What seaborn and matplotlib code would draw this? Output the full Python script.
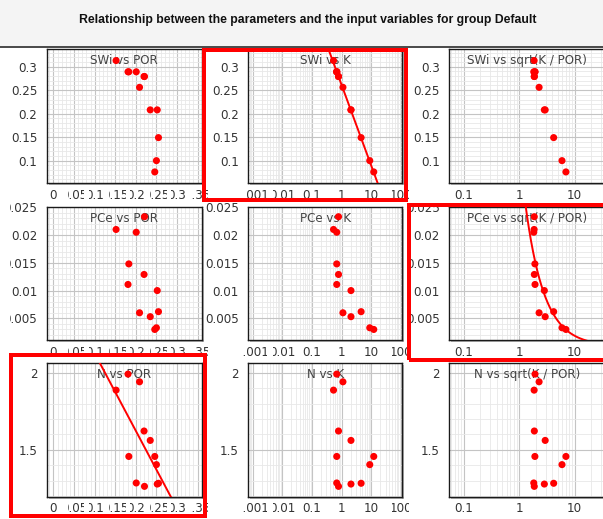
import numpy as np
import pandas as pd
import matplotlib
matplotlib.use("Agg")
import matplotlib.pyplot as plt
import seaborn as sns
from matplotlib.ticker import FixedLocator, FixedFormatter, MultipleLocator, LogLocator, NullFormatter
from matplotlib.transforms import Bbox
from matplotlib.patches import Rectangle
from matplotlib.lines import Line2D

TITLE = "Relationship between the parameters and the input variables for group Default"

# samples
POR = [0.152, 0.181, 0.183, 0.201, 0.209, 0.220, 0.221, 0.235, 0.246, 0.250, 0.252, 0.255]
K = [0.53, 0.68, 0.68, 0.68, 1.10, 0.78, 0.78, 2.05, 12.0, 8.8, 2.05, 4.5]
SWI = [0.313, 0.289, 0.289, 0.289, 0.256, 0.279, 0.279, 0.208, 0.076, 0.100, 0.208, 0.149]
PCE = [0.0210, 0.0111, 0.0148, 0.0205, 0.0060, 0.0129, 0.0233, 0.0053, 0.0030, 0.0033, 0.0100, 0.0062]
NEXP = [1.887, 1.991, 1.457, 1.285, 1.941, 1.622, 1.263, 1.561, 1.457, 1.404, 1.278, 1.283]

PARAM_NAMES = ["SWi", "PCe", "N"]
VAR_NAMES = ["POR", "K", "sqrt(K / POR)"]

POR_TICKS = [0, 0.05, 0.1, 0.15, 0.2, 0.25, 0.3, 0.35]
POR_TICK_LABELS = ["0", "0.05", "0.1", "0.15", "0.2", "0.25", "0.3", "0.35"]
K_TICKS = [0.001, 0.01, 0.1, 1, 10, 100]
K_TICK_LABELS = ["0.001", "0.01", "0.1", "1", "10", "100"]
SQ_TICKS = [0.1, 1, 10]
SQ_TICK_LABELS = ["0.1", "1", "10"]
SWI_TICKS = [0.1, 0.15, 0.2, 0.25, 0.3]
SWI_TICK_LABELS = ["0.1", "0.15", "0.2", "0.25", "0.3"]
PCE_TICKS = [0.005, 0.01, 0.015, 0.02, 0.025]
PCE_TICK_LABELS = ["0.005", "0.01", "0.015", "0.02", "0.025"]
N_TICKS = [1.5, 2.0]
N_TICK_LABELS = ["1.5", "2"]

# fitted relationships (highlighted panels)
SWI_K_FIT = (0.2604, -0.172)    # SWi = a + b*log10(K)
PCE_SQ_FIT = (0.0358, -1.283)   # PCe = a * sqrt(K/POR)**b
N_POR_FIT = (2.629, -5.03)      # N = a + b*POR

# ---------------------------------------------------------------- layout
W, H = 603, 519
COLS = [(46.7, 201.7), (248.3, 402.3), (449.3, 604.0)]
ROWS = [(49.3, 183.3), (206.7, 340.0), (363.3, 496.7)]
CELL_X = [(10, 210), (205, 409), (409, 604)]
CELL_Y = [(47, 201), (201, 356), (356, 519)]
XCFG = [
    dict(scale="linear", lim=(-0.0165, 0.36), ticks=POR_TICKS, labels=POR_TICK_LABELS, minor=0.01, step=0.05),
    dict(scale="log", lim=(10 ** -3.145, 10 ** 2.04), ticks=K_TICKS, labels=K_TICK_LABELS),
    dict(scale="log", lim=(10 ** -1.257, 10 ** 1.53), ticks=SQ_TICKS, labels=SQ_TICK_LABELS),
]
YCFG = [
    dict(lim=(0.0518, 0.3369), ticks=SWI_TICKS, labels=SWI_TICK_LABELS, minor=0.01),
    dict(lim=(0.0011, 0.0251), ticks=PCE_TICKS, labels=PCE_TICK_LABELS, minor=0.001),
    dict(lim=(1.196, 2.061), ticks=N_TICKS, labels=N_TICK_LABELS, minor=0.1),
]
RED_BOXES = [(203.5, 49.5, 406.0, 199.5), (408.7, 204.7, 612.0, 360.0), (10.8, 355.0, 205.0, 515.5)]

RED = "#ff0000"
TXT = "#333333"

df = pd.DataFrame({
    "POR": POR, "K": K, "SWi": SWI, "PCe": PCE, "N": NEXP,
})
df["sqrt(K / POR)"] = np.sqrt(df["K"] / df["POR"])

plt.rcParams["font.family"] = ["DejaVu Sans"]
fig = plt.figure(figsize=(W / 100, H / 100), dpi=100)
fig.patch.set_facecolor("white")


def fx(px):
    return px / W


def fy(py):
    return 1 - py / H


# title band
fig.add_artist(Rectangle((0, fy(46)), 1, 1 - fy(46), transform=fig.transFigure,
                         facecolor="#f4f4f4", edgecolor="none", zorder=-5))
fig.add_artist(Line2D([0, 1], [fy(46.5), fy(46.5)], transform=fig.transFigure,
                      color="#3a3a3a", lw=1.3, zorder=-4))
fig.text(fx(308), fy(20), TITLE, ha="center", va="center", fontsize=8.8,
         fontweight="bold", color="#111111",
         family=["Liberation Sans", "DejaVu Sans"])

axes = {}
for r in range(3):
    for c in range(3):
        x0, x1 = COLS[c]
        y0, y1 = ROWS[r]
        # shadow
        fig.add_artist(Rectangle((fx(x0 + 2), fy(y1 + 2)), fx(x1 - x0), (y1 - y0) / H,
                                 transform=fig.transFigure, facecolor="#b4b4b4",
                                 edgecolor="none", zorder=-1))
        ax = fig.add_axes([fx(x0), fy(y1), fx(x1 - x0), (y1 - y0) / H])
        ax.set_facecolor("white")
        xc, yc = XCFG[c], YCFG[r]
        if xc["scale"] == "log":
            ax.set_xscale("log")
        xname, yname = VAR_NAMES[c], PARAM_NAMES[r]

        sns.scatterplot(data=df, x=xname, y=yname, ax=ax, color=RED, s=26,
                        edgecolor="none", linewidth=0, zorder=5)

        # fit lines
        if xc["scale"] == "log":
            xf = np.logspace(np.log10(xc["lim"][0]), np.log10(xc["lim"][1]), 300)
        else:
            xf = np.linspace(xc["lim"][0], xc["lim"][1], 300)
        yf = None
        if (r, c) == (0, 1):
            yf = SWI_K_FIT[0] + SWI_K_FIT[1] * np.log10(xf)
        elif (r, c) == (1, 2):
            yf = PCE_SQ_FIT[0] * xf ** PCE_SQ_FIT[1]
        elif (r, c) == (2, 0):
            yf = N_POR_FIT[0] + N_POR_FIT[1] * xf
        if yf is not None:
            sns.lineplot(x=xf, y=yf, ax=ax, color=RED, lw=1.4, sort=False,
                         estimator=None, zorder=4)

        ax.set_xlim(*xc["lim"])
        ax.set_ylim(*yc["lim"])
        ax.set_xlabel("")
        ax.set_ylabel("")
        ax.xaxis.set_major_locator(FixedLocator(xc["ticks"]))
        ax.xaxis.set_major_formatter(FixedFormatter(xc["labels"]))
        if xc["scale"] == "log":
            ax.xaxis.set_minor_locator(LogLocator(base=10, subs=np.arange(2, 10), numticks=30))
        else:
            ax.xaxis.set_minor_locator(MultipleLocator(xc["minor"]))
        ax.xaxis.set_minor_formatter(NullFormatter())
        ax.yaxis.set_major_locator(FixedLocator(yc["ticks"]))
        ax.yaxis.set_major_formatter(FixedFormatter(yc["labels"]))
        ax.yaxis.set_minor_locator(MultipleLocator(yc["minor"]))
        ax.yaxis.set_minor_formatter(NullFormatter())

        ax.set_axisbelow(True)
        ax.grid(which="major", color="#c4c4c4", lw=0.8)
        ax.grid(which="minor", color="#e8e8e8", lw=0.6)
        ax.tick_params(which="both", length=0)
        ax.tick_params(axis="x", pad=4, labelsize=8.6, labelcolor=TXT)
        ax.tick_params(axis="y", pad=6.8, labelsize=8.6, labelcolor=TXT)
        for sp in ax.spines.values():
            sp.set_color("#1a1a1a")
            sp.set_linewidth(1.0)

        ax.text(0.5, 1 - 11.4 / (y1 - y0), f"{yname} vs {xname}", transform=ax.transAxes,
                ha="center", va="center", fontsize=8.6, color="#444444", zorder=3)
        axes[(r, c)] = ax

# red highlight boxes
for (bx0, by0, bx1, by1) in RED_BOXES:
    fig.add_artist(Rectangle((fx(bx0), fy(by1)), fx(bx1 - bx0), (by1 - by0) / H,
                             transform=fig.transFigure, fill=False, edgecolor=RED,
                             lw=4 * 72 / 100, zorder=20))

# clip tick labels to their slot (as in the original renderer)
fig.canvas.draw()
for (r, c), ax in axes.items():
    cx0, cx1 = CELL_X[c]
    cy0, cy1 = CELL_Y[r]
    dy0, dy1 = H - cy1, H - cy0
    xc = XCFG[c]
    ymid = ax.get_ylim()[0]
    for tick in ax.xaxis.get_major_ticks():
        loc = tick.get_loc()
        if xc["scale"] == "log":
            a, b = loc * 10 ** -0.32, loc * 10 ** 0.5
        else:
            a, b = loc - 0.29 * xc["step"], loc + 0.5 * xc["step"]
        da = ax.transData.transform((a, ymid))[0]
        db = ax.transData.transform((b, ymid))[0]
        lo = max(da, cx0)
        hi = min(db, cx1)
        tick.label1.set_clip_box(Bbox.from_extents(lo, dy0, hi, dy1))
        tick.label1.set_clip_on(True)
    for tick in ax.yaxis.get_major_ticks():
        tick.label1.set_clip_box(Bbox.from_extents(cx0, dy0, cx1, dy1))
        tick.label1.set_clip_on(True)

fig.savefig("out.png", dpi=100, facecolor=fig.get_facecolor())
